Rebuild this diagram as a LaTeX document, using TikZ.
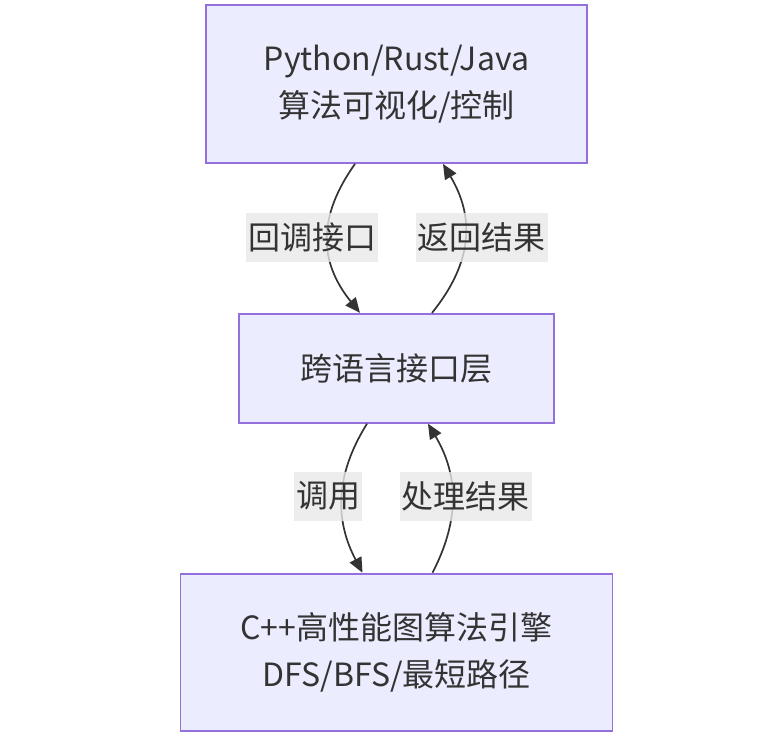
\documentclass[tikz,border=0pt]{standalone}
\usepackage{fontspec}
\setmainfont{Noto Sans CJK SC}
\usetikzlibrary{arrows.meta,positioning}
\definecolor{boxfill}{HTML}{ECECFF}
\definecolor{boxline}{HTML}{9370DB}
\definecolor{ink}{HTML}{333333}
\definecolor{lblfill}{HTML}{E8E8E8}
\begin{document}
\begin{tikzpicture}[
    x=1pt, y=-1pt,
    font=\fontsize{32}{47}\selectfont, text=ink,
    layer/.style={draw=boxline, fill=boxfill, line width=1.8pt, align=center,
                  inner sep=0pt},
    link/.style={draw=ink, line width=1.7pt, -{Triangle[length=15pt,width=13pt]}},
    lbl/.style={fill=lblfill, fill opacity=0.8, text opacity=1, inner xsep=2pt,
                minimum height=49pt},
    node distance=149pt,
    ]
\useasboundingbox (0,0) rectangle (757,744);

\node[layer, minimum width=381pt, minimum height=158pt] (app) at (396.5,84)
     {Python/Rust/Java\\算法可视化/控制};
\node[layer, minimum width=315pt, minimum height=109pt, below=of app] (bridge)
     {跨语言接口层};
\node[layer, minimum width=432pt, minimum height=157pt, below=of bridge] (engine)
     {C++高性能图算法引擎\\DFS/BFS/最短路径};

% upper pair
\draw[link] ([xshift=-41.5pt]app.south) .. controls +(-37,52) and +(-42,-52)
      .. ([xshift=-36.5pt]bridge.north);
\draw[link] ([xshift=35.5pt]bridge.north) .. controls +(42,-52) and +(31,52)
      .. ([xshift=46.5pt]app.south);
% lower pair
\draw[link] ([xshift=-29.5pt]bridge.south) .. controls +(-32.5,52) and +(-27.5,-52)
      .. ([xshift=-34pt]engine.north);
\draw[link] ([xshift=36pt]engine.north) .. controls +(27,-52) and +(31,52)
      .. ([xshift=31.5pt]bridge.south);

% edge labels
\node[lbl] (callback) at (312,237.5) {回调接口};
\node[lbl] (ret) at (481.5,237.5) {返回结果};
\node[lbl] (invoke) at (328,496) {调用};
\node[lbl] (result) at (465.5,496) {处理结果};
\end{tikzpicture}
\end{document}
